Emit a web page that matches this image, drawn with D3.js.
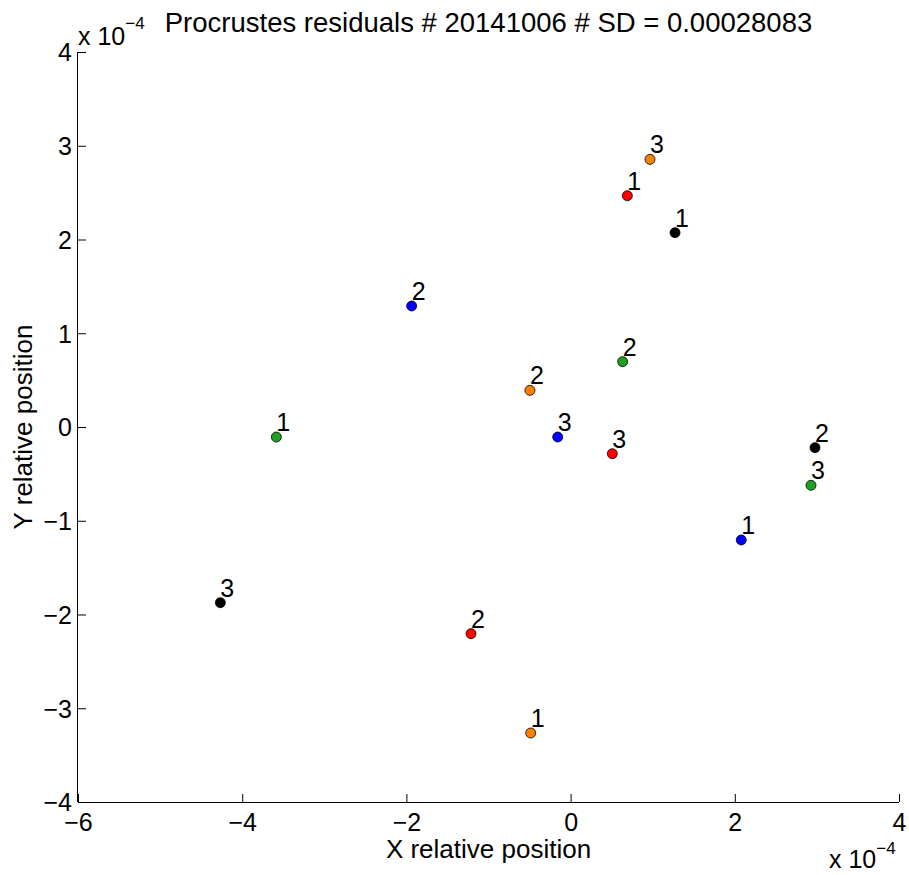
<!DOCTYPE html>
<html>
<head>
<meta charset="utf-8">
<script src="https://cdn.jsdelivr.net/npm/d3@7"></script>
<style>
html,body{margin:0;padding:0;background:#fff;}
svg{display:block;}
text{font-family:"Liberation Sans",Arial,Helvetica,sans-serif;fill:#000;}
</style>
</head>
<body>
<svg id="chart" width="909" height="875"></svg>
<script>
// Data (relative positions)
const pointLabels = ["1", "2", "3"];
const seriesNames = ["orange", "red", "black", "blue", "green"];
const seriesColors = ["#ff8000", "#ff0000", "#000000", "#0000ff", "#20a020"];
const orangeX = [-0.486e-4, -0.495e-4, 0.967e-4];
const orangeY = [-3.264e-4, 0.391e-4, 2.855e-4];
const redX = [0.691e-4, -1.213e-4, 0.508e-4];
const redY = [2.467e-4, -2.204e-4, -0.285e-4];
const blackX = [1.272e-4, 2.977e-4, -4.266e-4];
const blackY = [2.073e-4, -0.220e-4, -1.874e-4];
const blueX = [2.079e-4, -1.936e-4, -0.157e-4];
const blueY = [-1.205e-4, 1.291e-4, -0.107e-4];
const greenX = [-3.584e-4, 0.634e-4, 2.928e-4];
const greenY = [-0.107e-4, 0.697e-4, -0.622e-4];
const xTicks = [-6e-4, -4e-4, -2e-4, 0, 2e-4, 4e-4];
const yTicks = [-4e-4, -3e-4, -2e-4, -1e-4, 0, 1e-4, 2e-4, 3e-4, 4e-4];
const titleText = "Procrustes residuals # 20141006 # SD = 0.00028083";
const xLabel = "X relative position";
const yLabel = "Y relative position";

const seriesX = [orangeX, redX, blackX, blueX, greenX];
const seriesY = [orangeY, redY, blackY, blueY, greenY];
const points = [];
seriesNames.forEach((name, s) => {
  pointLabels.forEach((lab, i) => {
    points.push({series: name, color: seriesColors[s], label: lab, x: seriesX[s][i], y: seriesY[s][i]});
  });
});

const svg = d3.select("#chart");
const mLeft = 78, mRight = 899, mTop = 52, mBottom = 802;
const x = d3.scaleLinear().domain([-6e-4, 4e-4]).range([mLeft, mRight]);
const y = d3.scaleLinear().domain([-4e-4, 4e-4]).range([mBottom, mTop]);
const fmt = v => { const n = Math.round(v / 1e-4); return n < 0 ? "\u2212" + Math.abs(n) : String(n); };

// axes
const xAxis = d3.axisBottom(x).tickValues(xTicks).tickSize(-8).tickPadding(0).tickFormat(fmt);
const yAxis = d3.axisLeft(y).tickValues(yTicks).tickSize(-8).tickPadding(0).tickFormat(fmt);

const gx = svg.append("g").attr("transform", `translate(0,${mBottom})`).call(xAxis);
gx.select(".domain").attr("d", `M${mLeft},0.5H${mRight}`).attr("stroke", "#000").attr("stroke-width", 1);
gx.selectAll(".tick line").attr("stroke", "#000");
gx.selectAll(".tick text").attr("font-size", 25).attr("font-family", "Liberation Sans, Arial, sans-serif")
  .attr("y", 29).attr("dy", 0).attr("fill", "#000");

const gy = svg.append("g").attr("transform", `translate(${mLeft},0)`).call(yAxis);
gy.select(".domain").attr("d", `M-0.5,${mTop}V${mBottom}`).attr("stroke", "#000").attr("stroke-width", 1);
gy.selectAll(".tick line").attr("stroke", "#000");
gy.selectAll(".tick text").attr("font-size", 25).attr("font-family", "Liberation Sans, Arial, sans-serif")
  .attr("x", -6).attr("dy", "0.35em").attr("fill", "#000");

// exponent labels
const expTop = svg.append("text").attr("x", mLeft).attr("y", 45).attr("font-size", 25);
expTop.append("tspan").text("x 10");
expTop.append("tspan").attr("dy", -16).attr("font-size", 17).text("\u22124");

const expBot = svg.append("text").attr("x", 829).attr("y", 868).attr("font-size", 25);
expBot.append("tspan").text("x 10");
expBot.append("tspan").attr("dy", -14).attr("font-size", 17).text("\u22124");

// title and axis labels
svg.append("text").attr("x", (mLeft + mRight) / 2).attr("y", 32).attr("text-anchor", "middle")
  .attr("font-size", 27.5).text(titleText);
svg.append("text").attr("x", (mLeft + mRight) / 2).attr("y", 858).attr("text-anchor", "middle")
  .attr("font-size", 26).text(xLabel);
svg.append("text").attr("transform", `translate(32,${(mTop + mBottom) / 2}) rotate(-90)`)
  .attr("text-anchor", "middle").attr("font-size", 26).text(yLabel);

// points
const g = svg.append("g");
g.selectAll("circle").data(points).join("circle")
  .attr("cx", d => x(d.x)).attr("cy", d => y(d.y)).attr("r", 5)
  .attr("fill", d => d.color).attr("stroke", "#000").attr("stroke-width", 0.8);
g.selectAll("text").data(points).join("text")
  .attr("x", d => x(d.x)).attr("y", d => y(d.y) - 6)
  .attr("font-size", 25).text(d => d.label);
</script>
</body>
</html>
